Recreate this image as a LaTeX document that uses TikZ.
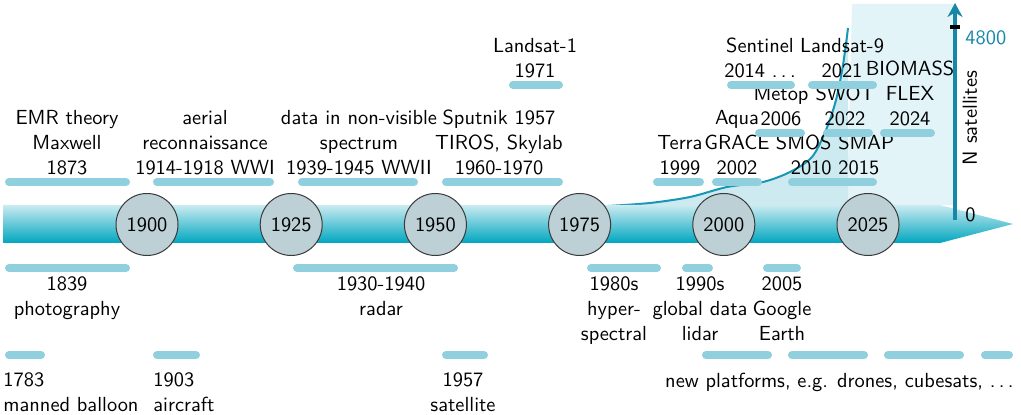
\documentclass[tikz,border=0pt]{standalone}
\usepackage{fontspec}
\usetikzlibrary{arrows.meta}

\definecolor{tlTop}{HTML}{CBEBF1}
\definecolor{tlBottom}{HTML}{00A6BF}
\definecolor{evBlue}{HTML}{8FCFDE}
\definecolor{ballFill}{HTML}{BDD0D6}
\definecolor{ballLine}{HTML}{3A3A3A}
\definecolor{satLine}{HTML}{1797B5}
\definecolor{satFill}{HTML}{CDEAF0}
\definecolor{panelFill}{HTML}{E2F4F8}
\definecolor{axisBlue}{HTML}{1787A8}

\newcommand{\spaceddots}{.\kern.1667em.\kern.1667em.}

\tikzset{
  evbar/.style={draw=evBlue, line width=4pt, line cap=round},
  evtop/.style={anchor=south, align=center, inner sep=0pt},
  evbot/.style={anchor=north, align=center, inner sep=0pt},
  yearball/.style={circle, draw=ballLine, line width=0.5pt, fill=ballFill,
    minimum size=31pt, inner sep=0pt},
}

\begin{document}
\begin{tikzpicture}[x=0.5pt, y=-0.5pt,
    every node/.style={font=\fontsize{10.2pt}{12.5pt}\selectfont\sffamily}]
                \useasboundingbox (0,0) rectangle (1021,415);

                % Drawing satellite panel and area under curve
                \fill[panelFill] (852,4) -- (955,4) -- (955,205) -- (847,205) -- cycle;%
                \fill[satFill] plot[smooth, tension=0.5] coordinates {(608,206) (650,203) (690,197) (727,187)
                  (763,182) (790,172) (812,157) (826,130) (836,100) (843,65) (848,28)} -- (848,205) -- cycle;%
                \draw[satLine, line width=1pt] plot[smooth, tension=0.5] coordinates {(608,206) (650,203) (690,197)
                  (727,187) (763,182) (790,172) (812,157) (826,130) (836,100) (843,65) (848,28)};%

                % Drawing time line
                \shade[top color=tlTop, bottom color=tlBottom] (3,205) -- (940,205) -- (1013,224) -- (940,243) -- (3,243) -- cycle;%

                % Drawing axis N satellites
                \coordinate (axbot) at (955,220);
                \coordinate (axtop) at (955,3);
                \draw[axisBlue, line width=2.2pt, -{Stealth[length=7pt, width=7.5pt]}] (axbot) -- (axtop);%
                \fill[black] (950,25) rectangle (960,29.5);%
                \node[anchor=north west, inner sep=0pt, text=axisBlue] (maxlbl) at (965,30.5) {4800};%
                \node[anchor=base west, inner sep=0pt] (zerolbl) at (965,222) {0};%
                \node[rotate=90, inner sep=0pt] (nsat) at (970,118) {N satellites};%

                % Marking years by circles
                \foreach \yr [count=\i from 0] in {1900,1925,1950,1975,2000,2025}
                  \node[yearball] (b\yr) at ({147+144.2*\i},224.5) {\yr};%

                % Drawing events above line
                \draw[evbar] (9,182) -- (126,182);%
                \node[evtop] (maxwell) at (67,175.5) {EMR theory\\Maxwell\\1873};%
                \draw[evbar] (157,182) -- (270,182);%
                \node[evtop] (aerial) at (205,175.5) {aerial\\reconnaissance\\1914-1918 WWI};%
                \draw[evbar] (302,182) -- (414,182);%
                \node[evtop] (nonvis) at (359,175.5) {data in non-visible\\spectrum\\1939-1945 WWII};%
                \draw[evbar] (446,182) -- (559,182);%
                \node[evtop] (sputnik) at (499,175.5) {Sputnik 1957\\TIROS, Skylab\\1960-1970};%
                \draw[evbar] (513,85) -- (559,85);%
                \node[evtop] (landsatA) at (535,78.5) {Landsat-1\\1971};%
                \draw[evbar] (657,182) -- (700,182);%
                \node[evtop] (terra) at (680,175.5) {Terra\\1999};%
                \draw[evbar] (716,182) -- (758,182);%
                \node[evtop] (grace) at (737,175.5) {Aqua\\GRACE\\2002};%
                \draw[evbar] (792,182) -- (873,182);%
                \node[evtop] (smos) at (835,175.5) {SMOS SMAP\\2010 2015};%
                \draw[evbar] (759,133) -- (801,133);%
                \node[evtop] (metop) at (781,126.5) {Metop\\2006};%
                \draw[evbar] (827,133) -- (869,133);%
                \node[evtop] (swot) at (845,126.5) {SWOT\\2022};%
                \draw[evbar] (884,133) -- (931,133);%
                \node[evtop] (flex) at (910,126.5) {BIOMASS\\FLEX\\2024};%
                \draw[evbar] (731,85) -- (791,85);%
                \node[evtop] (sentinel) at (760,78.5) {Sentinel\\2014 \spaceddots};%
                \draw[evbar] (812,85) -- (873,85);%
                \node[evtop] (landsatB) at (842,78.5) {Landsat-9\\2021};%

                % Drawing events below line
                \draw[evbar] (9,268) -- (126,268);%
                \node[evbot] (photo) at (67,276) {1839\\photography};%
                \draw[evbar] (297,268) -- (454,268);%
                \node[evbot] (radar) at (381,276) {1930-1940\\radar};%
                \draw[evbar] (591,268) -- (657,268);%
                \node[evbot] (hyper) at (614,276) {1980s\\hyper-\\spectral};%
                \draw[evbar] (686,268) -- (709,268);%
                \node[evbot] (lidar) at (700,276) {1990s\\global data\\lidar};%
                \draw[evbar] (767,268) -- (797,268);%
                \node[evbot] (google) at (782,276) {2005\\Google\\Earth};%

                % Drawing platforms
                \draw[evbar] (9,355) -- (41,355);%
                \node[evbot, anchor=north west, align=left] (balloon) at (3,372) {1783\\manned balloon};%
                \draw[evbar] (157,355) -- (196,355);%
                \node[evbot, anchor=north west, align=left] (aircraft) at (153,372) {1903\\aircraft};%
                \draw[evbar] (446,355) -- (484,355);%
                \node[evbot] (satellite) at (463,372) {1957\\satellite};%
                \draw[evbar] (706,355) -- (768,355);%
                \draw[evbar] (792,355) -- (864,355);%
                \draw[evbar] (888,355) -- (960,355);%
                \draw[evbar] (985,355) -- (1009,355);%
                \node[evbot, anchor=north east] (platforms) at (1014,372.5) {new platforms, e.g. drones, cubesats, \spaceddots};%
\end{tikzpicture}
\end{document}
